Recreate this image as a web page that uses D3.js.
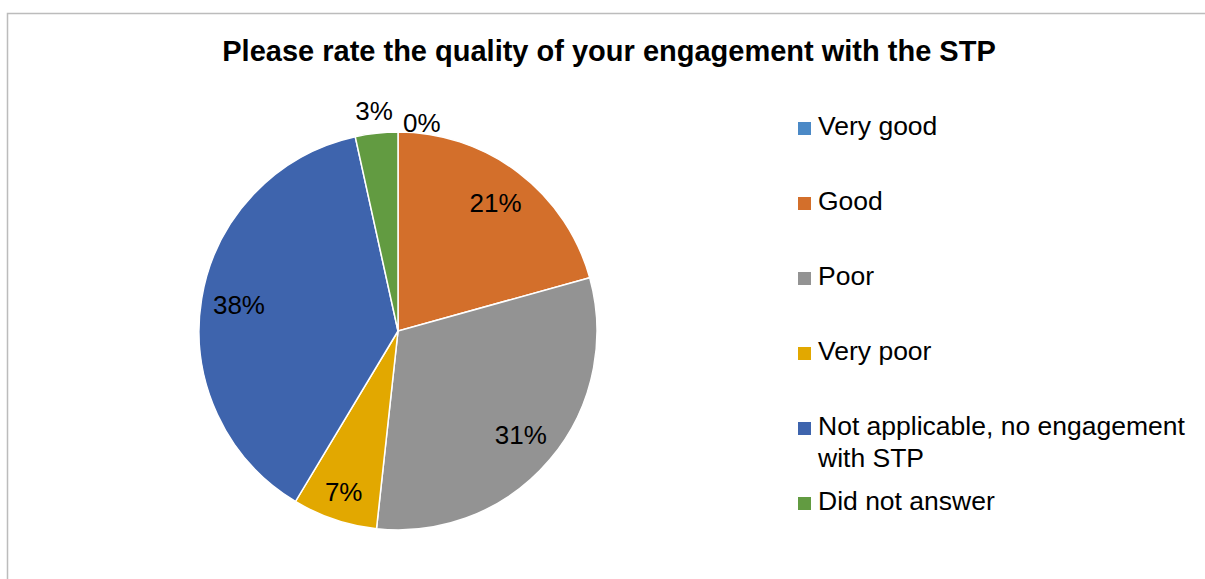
<!DOCTYPE html>
<html>
<head>
<meta charset="utf-8">
<script src="https://cdn.jsdelivr.net/npm/d3@7"></script>
<style>
  html, body { margin: 0; padding: 0; background: #fff; }
  svg { display: block; font-family: "Liberation Sans", Arial, sans-serif; }
</style>
</head>
<body>
<svg id="chart" width="1205" height="579"></svg>
<script>
// Survey responses (counts of respondents)
const categories = ["Very good", "Good", "Poor", "Very poor", "Not applicable, no engagement with STP", "Did not answer"];
const counts = [0, 6, 9, 2, 11, 1];
const colors = ["#4B89C6", "#D36F2B", "#939393", "#E2A800", "#3E64AD", "#629B41"];
const title = "Please rate the quality of your engagement with the STP";

const svg = d3.select("#chart");
const W = 1205, H = 579;

// Chart area frame
svg.append("path")
  .attr("d", `M7.5,${H + 2} L7.5,13.5 L${W + 2},13.5`)
  .attr("fill", "none")
  .attr("stroke", "#bcbcbc")
  .attr("stroke-width", 1.5);

// Title
svg.append("text")
  .attr("x", 609)
  .attr("y", 61)
  .attr("text-anchor", "middle")
  .attr("font-size", 29)
  .attr("font-weight", "bold")
  .attr("fill", "#000")
  .text(title);

const total = d3.sum(counts);
const data = categories.map((c, i) => ({ name: c, value: counts[i], color: colors[i] }));

const cx = 398, cy = 331, r = 199;
const pie = d3.pie().value(d => d.value).sort(null);
const arcs = pie(data);
const arc = d3.arc().innerRadius(0).outerRadius(r);

const g = svg.append("g").attr("transform", `translate(${cx},${cy})`);

g.selectAll("path.slice")
  .data(arcs)
  .join("path")
  .attr("class", "slice")
  .attr("d", arc)
  .attr("fill", d => d.data.color)
  .attr("stroke", "#fff")
  .attr("stroke-width", d => d.data.value > 0 ? 1.5 : 0);

// Percentage labels: inside for large slices, outside for small ones
const fmt = v => Math.round(v / total * 100) + "%";
const inner = d3.arc().innerRadius(r * 0.81).outerRadius(r * 0.81);
const outerFar = d3.arc().innerRadius(r + 22).outerRadius(r + 22);
const outerNear = d3.arc().innerRadius(r + 9).outerRadius(r + 9);

g.selectAll("text.pct")
  .data(arcs)
  .join("text")
  .attr("class", "pct")
  .attr("font-size", 26)
  .attr("fill", "#000")
  .attr("dy", "0.35em")
  .each(function (d) {
    const share = d.data.value / total;
    const sel = d3.select(this);
    if (share === 0) {
      const [x, y] = outerNear.centroid(d);
      sel.attr("x", x + 5).attr("y", y).attr("text-anchor", "start");
    } else if (share < 0.05) {
      const [x, y] = outerFar.centroid(d);
      sel.attr("x", x).attr("y", y).attr("text-anchor", "middle");
    } else {
      const rr = share < 0.1 ? r * 0.855 : r * 0.81;
      const a = (d.startAngle + d.endAngle) / 2;
      sel.attr("x", Math.sin(a) * rr).attr("y", -Math.cos(a) * rr).attr("text-anchor", "middle");
    }
  })
  .text(d => fmt(d.data.value));

// Legend
const legend = svg.append("g").attr("transform", "translate(798,135)");
const legendStep = 75;
const wrapWidth = 375;

const items = legend.selectAll("g.item")
  .data(data)
  .join("g")
  .attr("class", "item")
  .attr("transform", (d, i) => `translate(0,${i * legendStep})`);

items.append("rect")
  .attr("x", 0)
  .attr("y", -13)
  .attr("width", 13)
  .attr("height", 13)
  .attr("fill", d => d.color);

items.append("text")
  .attr("x", 20)
  .attr("y", 0)
  .attr("font-size", 26.5)
  .attr("fill", "#000")
  .each(function (d) {
    const t = d3.select(this);
    const words = d.name.split(" ");
    let line = [];
    let tspan = t.append("tspan").attr("x", 20).attr("dy", 0);
    let lineNo = 0;
    for (const w of words) {
      line.push(w);
      tspan.text(line.join(" "));
      if (tspan.node().getComputedTextLength() > wrapWidth && line.length > 1) {
        line.pop();
        tspan.text(line.join(" "));
        line = [w];
        lineNo++;
        tspan = t.append("tspan").attr("x", 20).attr("dy", 32).text(w);
      }
    }
  });
</script>
</body>
</html>
